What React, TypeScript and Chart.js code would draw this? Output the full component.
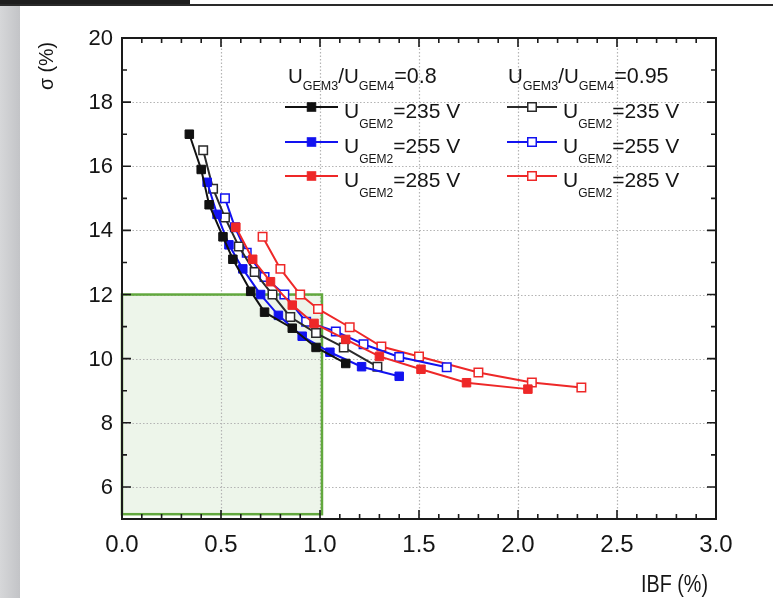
import { useEffect, useRef } from "react";
import { Chart, registerables } from "chart.js";

Chart.register(...registerables);

// ---- axes ----
const X_MIN = 0;
const X_MAX = 3;
const Y_MIN = 5;
const Y_MAX = 20;
const X_TICKS = [0, 0.5, 1, 1.5, 2, 2.5, 3];
const X_TICK_LABELS = ["0.0", "0.5", "1.0", "1.5", "2.0", "2.5", "3.0"];
const Y_TICKS = [6, 8, 10, 12, 14, 16, 18, 20];
const Y_TICK_LABELS = ["6", "8", "10", "12", "14", "16", "18", "20"];
const X_MINOR_STEP = 0.1;
const Y_MINOR_STEP = 1;
const X_TITLE = "IBF (%)";
const Y_TITLE = "σ (%)";

// ---- acceptance region ----
const REGION_IBF = [0, 1.01];
const REGION_SIGMA = [5.15, 12];

// ---- U_GEM3/U_GEM4 = 0.8 (filled markers) ----
const IBF_08_235 = [0.34, 0.4, 0.44, 0.51, 0.56, 0.65, 0.72, 0.86, 0.98, 1.13];
const SIG_08_235 = [17.0, 15.9, 14.8, 13.8, 13.1, 12.1, 11.45, 10.95, 10.35, 9.85];
const IBF_08_255 = [0.43, 0.48, 0.54, 0.61, 0.7, 0.79, 0.91, 1.05, 1.21, 1.4];
const SIG_08_255 = [15.5, 14.5, 13.55, 12.8, 12.0, 11.35, 10.7, 10.2, 9.75, 9.45];
const IBF_08_285 = [0.575, 0.66, 0.75, 0.86, 0.97, 1.13, 1.3, 1.51, 1.74, 2.05];
const SIG_08_285 = [14.1, 13.1, 12.4, 11.67, 11.1, 10.6, 10.07, 9.67, 9.25, 9.05];

// ---- U_GEM3/U_GEM4 = 0.95 (open markers) ----
const IBF_095_235 = [0.41, 0.46, 0.52, 0.59, 0.67, 0.76, 0.85, 0.98, 1.12, 1.29];
const SIG_095_235 = [16.5, 15.3, 14.4, 13.5, 12.7, 12.0, 11.3, 10.8, 10.35, 9.75];
const IBF_095_255 = [0.52, 0.57, 0.63, 0.72, 0.82, 0.93, 1.08, 1.22, 1.4, 1.64];
const SIG_095_255 = [15.0, 14.1, 13.3, 12.55, 12.0, 11.15, 10.85, 10.45, 10.05, 9.73];
const IBF_095_285 = [0.71, 0.8, 0.9, 0.99, 1.15, 1.31, 1.5, 1.8, 2.07, 2.32];
const SIG_095_285 = [13.8, 12.8, 12.0, 11.55, 10.98, 10.38, 10.07, 9.57, 9.26, 9.1];

// ---- legend ----
const LEGEND_HEADERS = ["0.8", "0.95"];
const LEGEND_VOLTAGES = ["235 V", "255 V", "285 V"];

const BLACK = "#111111";
const GRAY = "#2a2a2a";
const BLUE = "#1212f0";
const RED = "#ee2828";
const SERIES_COLORS_FILLED = [BLACK, BLUE, RED];
const SERIES_COLORS_OPEN = [GRAY, BLUE, RED];

const FONT = '"Liberation Sans", Arial, Helvetica, sans-serif';
const TEXT = "#151515";

const zip = (xs: number[], ys: number[]) => xs.map((x, i) => ({ x, y: ys[i] }));

function makeSet(xs: number[], ys: number[], color: string, open: boolean) {
  return {
    data: zip(xs, ys),
    showLine: true,
    borderColor: color,
    borderWidth: 2,
    backgroundColor: open ? "#ffffff" : color,
    pointStyle: "rect",
    pointRadius: 6,
    pointBorderWidth: open ? 1.5 : 1,
    pointBorderColor: color,
    pointBackgroundColor: open ? "#ffffff" : color,
    tension: 0,
  };
}

function drawText(
  ctx: CanvasRenderingContext2D,
  text: string,
  x: number,
  y: number,
  size: number,
  align: CanvasTextAlign,
  baseline: CanvasTextBaseline,
  width?: number
) {
  ctx.save();
  ctx.font = `${size}px ${FONT}`;
  ctx.fillStyle = TEXT;
  ctx.textAlign = align;
  ctx.textBaseline = baseline;
  const w = ctx.measureText(text).width;
  const sx = width ? width / w : 1;
  ctx.translate(x, y);
  ctx.scale(sx, 1);
  ctx.fillText(text, 0, 0);
  ctx.restore();
  return w * sx;
}

// Draws a run of [text, size, baselineShift] pieces left to right.
function drawRun(
  ctx: CanvasRenderingContext2D,
  x: number,
  y: number,
  parts: [string, number, number][]
) {
  let cx = x;
  for (const [t, size, dy] of parts) {
    cx += drawText(ctx, t, cx, y + dy, size, "left", "alphabetic");
  }
}

function legendSample(
  ctx: CanvasRenderingContext2D,
  x0: number,
  x1: number,
  y: number,
  color: string,
  open: boolean
) {
  ctx.save();
  ctx.strokeStyle = color;
  ctx.lineWidth = 2;
  ctx.beginPath();
  ctx.moveTo(x0, y);
  ctx.lineTo(x1, y);
  ctx.stroke();
  const m = (x0 + x1) / 2;
  const s = 8.5;
  ctx.fillStyle = open ? "#ffffff" : color;
  ctx.fillRect(m - s / 2, y - s / 2, s, s);
  ctx.lineWidth = open ? 1.5 : 1;
  ctx.strokeRect(m - s / 2, y - s / 2, s, s);
  ctx.restore();
}

const underlay = {
  id: "underlay",
  beforeDatasetsDraw(chart: any) {
    const { ctx, chartArea } = chart;
    const xs = chart.scales.x;
    const ys = chart.scales.y;
    // acceptance region
    const rx0 = xs.getPixelForValue(REGION_IBF[0]);
    const rx1 = xs.getPixelForValue(REGION_IBF[1]);
    const ry0 = ys.getPixelForValue(REGION_SIGMA[1]);
    const ry1 = ys.getPixelForValue(REGION_SIGMA[0]);
    ctx.save();
    ctx.fillStyle = "rgba(150,195,130,0.17)";
    ctx.fillRect(rx0, ry0, rx1 - rx0, ry1 - ry0);
    // dotted grid
    ctx.strokeStyle = "#b4b4b4";
    ctx.lineWidth = 1.2;
    ctx.setLineDash([1.5, 2]);
    for (const v of X_TICKS) {
      if (v <= X_MIN || v >= X_MAX) continue;
      const px = Math.round(xs.getPixelForValue(v)) + 0.5;
      ctx.beginPath();
      ctx.moveTo(px, chartArea.top);
      ctx.lineTo(px, chartArea.bottom);
      ctx.stroke();
    }
    for (const v of Y_TICKS) {
      if (v <= Y_MIN || v >= Y_MAX) continue;
      const py = Math.round(ys.getPixelForValue(v)) + 0.5;
      ctx.beginPath();
      ctx.moveTo(chartArea.left, py);
      ctx.lineTo(chartArea.right, py);
      ctx.stroke();
    }
    ctx.setLineDash([]);
    ctx.strokeStyle = "#62a83e";
    ctx.lineWidth = 2.5;
    ctx.strokeRect(rx0, ry0, rx1 - rx0, ry1 - ry0);
    ctx.restore();
  },
};

const overlay = {
  id: "overlay",
  afterDatasetsDraw(chart: any) {
    const { ctx, chartArea } = chart;
    const { left, right, top, bottom } = chartArea;
    const xs = chart.scales.x;
    const ys = chart.scales.y;
    ctx.save();
    ctx.strokeStyle = "#1a1a1a";
    // inward ticks on all four sides
    ctx.lineWidth = 1.6;
    const nx = Math.round((X_MAX - X_MIN) / X_MINOR_STEP);
    for (let i = 1; i < nx; i++) {
      const v = X_MIN + i * X_MINOR_STEP;
      const major = X_TICKS.some((t) => Math.abs(t - v) < 1e-6);
      const len = major ? 9 : 5;
      const px = xs.getPixelForValue(v);
      ctx.beginPath();
      ctx.moveTo(px, bottom);
      ctx.lineTo(px, bottom - len);
      ctx.moveTo(px, top);
      ctx.lineTo(px, top + len);
      ctx.stroke();
    }
    const ny = Math.round((Y_MAX - Y_MIN) / Y_MINOR_STEP);
    for (let i = 1; i < ny; i++) {
      const v = Y_MIN + i * Y_MINOR_STEP;
      const major = Y_TICKS.includes(v);
      const len = major ? 9 : 5;
      const py = ys.getPixelForValue(v);
      ctx.beginPath();
      ctx.moveTo(left, py);
      ctx.lineTo(left + len, py);
      ctx.moveTo(right, py);
      ctx.lineTo(right - len, py);
      ctx.stroke();
    }
    // frame
    ctx.lineWidth = 2;
    ctx.strokeRect(left, top, right - left, bottom - top);
    ctx.restore();

    // tick labels
    X_TICKS.forEach((v, i) => {
      drawText(ctx, X_TICK_LABELS[i], xs.getPixelForValue(v), bottom + 26, 24, "center", "middle");
    });
    Y_TICKS.forEach((v, i) => {
      drawText(ctx, Y_TICK_LABELS[i], left - 9, ys.getPixelForValue(v) + 1, 22, "right", "middle");
    });

    // axis titles
    drawText(ctx, X_TITLE, right - 8, bottom + 73, 23, "right", "alphabetic", 67);
    ctx.save();
    ctx.translate(left - 75, top + 28);
    ctx.rotate(-Math.PI / 2);
    drawText(ctx, Y_TITLE, 0, 0, 21, "center", "middle", 48);
    ctx.restore();

    // legend: two columns (U_GEM3/U_GEM4 ratio), three rows (U_GEM2)
    const cols = [
      { tx: left + 166, lx0: left + 163, lx1: left + 216, open: false, colors: SERIES_COLORS_FILLED },
      { tx: left + 386, lx0: left + 385, lx1: left + 435, open: true, colors: SERIES_COLORS_OPEN },
    ];
    const rowY = [top + 69, top + 104, top + 138];
    cols.forEach((c, ci) => {
      drawRun(ctx, c.tx, top + 45, [
        ["U", 20.5, 0],
        ["GEM3", 12.5, 7],
        ["/U", 20.5, 0],
        ["GEM4", 12.5, 7],
        ["=" + LEGEND_HEADERS[ci], 21.5, 0],
      ]);
      rowY.forEach((ry, ri) => {
        legendSample(ctx, c.lx0, c.lx1, ry, c.colors[ri], c.open);
        drawRun(ctx, c.lx1 + 6, ry + 10.5, [
          ["U", 21, 0],
          ["GEM2", 12, 10.5],
          ["=" + LEGEND_VOLTAGES[ri], 21, 0],
        ]);
      });
    });
  },
};

export default function App() {
  const ref = useRef<HTMLCanvasElement | null>(null);

  useEffect(() => {
    const canvas = ref.current;
    if (!canvas) return;
    const chart = new Chart(canvas, {
      type: "scatter",
      data: {
        datasets: [
          makeSet(IBF_08_235, SIG_08_235, SERIES_COLORS_FILLED[0], false),
          makeSet(IBF_08_255, SIG_08_255, SERIES_COLORS_FILLED[1], false),
          makeSet(IBF_08_285, SIG_08_285, SERIES_COLORS_FILLED[2], false),
          makeSet(IBF_095_235, SIG_095_235, SERIES_COLORS_OPEN[0], true),
          makeSet(IBF_095_255, SIG_095_255, SERIES_COLORS_OPEN[1], true),
          makeSet(IBF_095_285, SIG_095_285, SERIES_COLORS_OPEN[2], true),
        ] as any,
      },
      options: {
        animation: false,
        responsive: false,
        maintainAspectRatio: false,
        devicePixelRatio: 1,
        layout: { padding: { left: 122, top: 38, right: 57, bottom: 79 } },
        plugins: {
          legend: { display: false },
          tooltip: { enabled: false },
          title: { display: false },
        },
        scales: {
          x: { type: "linear", min: X_MIN, max: X_MAX, display: false },
          y: { type: "linear", min: Y_MIN, max: Y_MAX, display: false },
        },
      },
      plugins: [underlay, overlay],
    });
    return () => chart.destroy();
  }, []);

  return (
    <div
      style={{
        position: "fixed",
        left: 0,
        top: 0,
        width: 773,
        height: 598,
        background: "#ffffff",
        overflow: "hidden",
      }}
    >
      <div
        style={{
          position: "absolute",
          left: 0,
          top: 6,
          width: 20,
          height: 592,
          background: "linear-gradient(to right, #d6d7d9, #c3c4c7)",
        }}
      />
      <div style={{ position: "absolute", left: 0, top: 0, width: 190, height: 6, background: "#1e1e1e" }} />
      <div style={{ position: "absolute", left: 0, top: 4, width: 773, height: 1.5, background: "#2a2a2a" }} />
      <canvas ref={ref} width={773} height={598} style={{ position: "absolute", left: 0, top: 0, width: 773, height: 598 }} />
    </div>
  );
}
